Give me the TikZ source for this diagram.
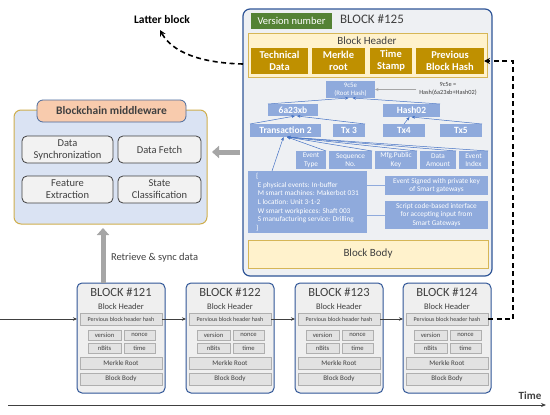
\documentclass[tikz,border=0pt]{standalone}
\usepackage{fontspec}
\setmainfont{Carlito}
\usetikzlibrary{arrows.meta,calc}
\definecolor{blueD}{HTML}{2F5597}
\definecolor{goldC}{HTML}{BF9000}
\definecolor{hdrY}{HTML}{FFF2CC}
\definecolor{hdrB}{HTML}{D6B656}
\definecolor{greenV}{HTML}{548235}
\definecolor{treeB}{HTML}{8FAADC}
\definecolor{lineB}{HTML}{4472C4}
\definecolor{mwFill}{HTML}{DAE3F3}
\definecolor{mwBord}{HTML}{CFAE4C}
\definecolor{mwTab}{HTML}{F8CBAD}
\definecolor{tabBord}{HTML}{4A6A9C}
\definecolor{bigFill}{HTML}{EEF0F3}
\definecolor{sFill}{HTML}{EFEFEF}
\definecolor{sIn}{HTML}{E2E2E2}
\definecolor{sInB}{HTML}{AFAFAF}
\definecolor{txtG}{HTML}{404040}
\definecolor{arrG}{HTML}{A6A6A6}
\definecolor{inBox}{HTML}{F2F2F2}
\newcommand\fsz[2]{\fontsize{#1}{#2}\selectfont}
\newcommand\bx[7]{\node[#6,minimum width={(#4)-(#2)},minimum height={(#5)-(#3)}] (#1) at ({((#2)+(#4))/2},{((#3)+(#5))/2}) {#7};}
\tikzset{
 every node/.style={inner sep=0pt,outer sep=0pt},
 gbox/.style={fill=goldC,text=white,font=\bfseries\fsz{10.5}{12},align=center},
 tbox/.style={fill=treeB,text=white,font=\bfseries\fsz{9.5}{11},align=center},
 ebox/.style={fill=treeB,text=white,font=\fsz{7.3}{8.5},align=center},
 tarr/.style={draw=lineB,line width=0.5pt,-{Stealth[length=3.5pt,width=3pt]}},
 tline/.style={draw=treeB,line width=0.6pt},
 sblk/.style={draw=blueD,line width=1pt,rounded corners=5pt,fill=sFill},
 sin/.style={fill=sIn,draw=sInB,line width=0.4pt,text=txtG},
 hdr/.style={fill=hdrY,draw=hdrB,line width=0.8pt},
 mwin/.style={fill=inBox,draw=txtG,line width=0.8pt,rounded corners=5pt,text=txtG,font=\fsz{10.5}{12},align=center},
 garr/.style={draw=arrG,line width=5pt,-{Triangle[width=12pt,length=7pt]}},
 darr/.style={draw=black,line width=1.6pt,dash pattern=on 5pt off 3.5pt,-{Stealth[length=6pt,width=6pt]}},
 carr/.style={draw=txtG,line width=0.6pt,-{Stealth[length=4pt,width=3.5pt]}},
}
\newcommand\smallblock[2]{%
 \bx{b#1}{#2}{283}{#2+88}{393}{sblk}{}
 \node[font=\fsz{12.5}{14},text=txtG] (t#1) at ({#2+44},292) {BLOCK \##1};
 \node[font=\fsz{8.5}{10},text=txtG] (bh#1) at ({#2+44},307) {Block Header};
 \bx{h#1}{#2+3}{313}{#2+85}{325}{sin,font=\fsz{6}{7}}{Pervious block header hash}
 \bx{v#1}{#2+11}{330}{#2+44}{340}{sin,font=\fsz{6.6}{7}}{version}
 \bx{n#1}{#2+47}{330}{#2+78}{340}{sin,font=\fsz{6.6}{7}}{nonce}
 \bx{nb#1}{#2+11}{343}{#2+44}{353}{sin,font=\fsz{6.6}{7}}{nBits}
 \bx{ti#1}{#2+47}{343}{#2+78}{353}{sin,font=\fsz{6.6}{7}}{time}
 \bx{m#1}{#2+3}{357}{#2+85}{369}{sin,font=\fsz{7}{8}}{Merkle Root}
 \bx{bb#1}{#2+3}{373}{#2+85}{385}{sin,font=\fsz{7}{8}}{Block Body}
}
\begin{document}
\begin{tikzpicture}[x=1pt,y=-1pt]
\useasboundingbox (0,0) rectangle (550,415);
% ---------- big block #125
\bx{big}{243}{9}{492}{276}{draw=blueD,line width=1.2pt,rounded corners=7pt,fill=bigFill}{}
\bx{ver}{251}{13}{332}{29}{fill=greenV,text=white,font=\fsz{10.5}{12}}{Version number}
\node[font=\fsz{13}{15},text=txtG] (b125) at (372,19) {BLOCK \#125};
\bx{hdr}{248}{33}{487}{77}{hdr}{}
\node[font=\fsz{11}{13},text=txtG] (hdrt) at (367,41) {Block Header};
\bx{tech}{251}{48}{308}{74}{gbox}{Technical\\Data}
\bx{merk}{312}{48}{365}{74}{gbox}{Merkle\\root}
\bx{tstamp}{370}{48}{412}{74}{gbox}{Time\\Stamp}
\bx{prev}{416}{48}{484}{74}{gbox}{Previous\\Block Hash}
% tree
\bx{root}{326}{81}{375}{98}{fill=treeB,text=white,font=\fsz{6.8}{8},align=center}{9c5e\\(Root Hash)}
\node[font=\fsz{6.3}{8},text=txtG,align=center] (rlab) at (448,89) {9c5e =\\Hash(6a23xb+Hash02)};
\bx{h6}{268}{104}{318}{116}{tbox}{6a23xb}
\bx{h02}{383}{104}{440}{117}{tbox}{Hash02}
\bx{tx2}{250}{124}{321}{137}{tbox}{Transaction 2}
\bx{tx3}{333}{124}{365}{137}{tbox}{Tx 3}
\bx{tx4}{383}{124}{425}{137}{tbox}{Tx4}
\bx{tx5}{440}{124}{482}{137}{tbox}{Tx5}
\bx{etype}{296}{151}{326}{169}{ebox}{Event\\Type}
\bx{eseq}{329}{151}{372}{169}{ebox}{Sequence\\No.}
\bx{emfg}{375}{151}{417}{169}{ebox}{Mfg.Public\\Key}
\bx{eamt}{420}{151}{456}{169}{ebox}{Data\\Amount}
\bx{eidx}{459}{151}{488}{169}{ebox}{Event\\Index}
\bx{bt}{248}{171}{367}{233}{fill=treeB,text=white,font=\fsz{7.3}{8.7},align=left}{%
\{\hspace*{88pt}\strut\\
\ E physical events: In-buffer\\
\ M smart machines: Makerbot 031\\
\ L location: Unit 3-1-2\\
\ W smart workpieces: Shaft 003\\
\ S manufacturing service: Drilling\\
\}}
\bx{sign}{385}{176}{488}{195}{ebox}{Event Signed with private key\\of Smart gateways}
\bx{scr}{385}{201}{488}{229}{ebox}{Script code-based interface\\for accepting input from\\Smart Gateways}
\bx{body}{248}{240}{488}{268}{hdr,font=\fsz{11}{13},text=txtG}{Block Body}
% tree connectors
\draw[draw=arrG,line width=0.5pt,-{Stealth[length=3.5pt,width=3pt]}] (rlab.west |- root.east) ++(-3,0) -- (root.east);
\draw[tarr] (h6.north west) -- ([xshift=-2pt]root.south);
\draw[tarr] (h02.north east) -- ([xshift=2pt]root.south);
\draw[tarr] (tx2.north west) -- ([xshift=2pt]h6.south);
\draw[tarr] (tx3.north east) -- ([xshift=4pt]h6.south);
\draw[tarr] (tx4.north) -- ([xshift=-2pt]h02.south);
\draw[tarr] (tx5.north east) -- (h02.south);
\foreach \e in {etype,eseq,emfg,eamt,eidx}{\draw[tarr] (\e.north east) -- ([xshift=1.5pt]tx2.south);}
\draw[tarr] ([xshift=24pt]bt.north west) -- ([xshift=-2pt]tx2.south);
\draw[tline] (bt.east |- sign.west) -- (sign.west);
\draw[tline] (bt.east |- scr.west) -- (scr.west);
% ---------- middleware
\bx{mw}{14}{110}{207}{224}{fill=mwFill,draw=mwBord,line width=1pt,rounded corners=7pt}{}
\bx{mwt}{37}{100}{186}{122}{fill=mwTab,draw=tabBord,line width=0.8pt,rounded corners=6pt,text=txtG,font=\bfseries\fsz{11.5}{13}}{Blockchain middleware}
\bx{dsync}{22}{136}{113}{163}{mwin}{Data\\Synchronization}
\bx{dfetch}{118}{136}{201}{163}{mwin}{Data Fetch}
\bx{fext}{22}{176}{113}{203}{mwin}{Feature\\Extraction}
\bx{scls}{118}{176}{201}{203}{mwin}{State\\Classification}
% ---------- small blocks
\smallblock{121}{77}
\smallblock{122}{186}
\smallblock{123}{295}
\smallblock{124}{403}
\coordinate (chainstart) at (0,319);
\draw[carr] (chainstart) -- (b121.west |- h121.east);
\draw[carr] (h121.east) -- (b122.west |- h121.east);
\draw[carr] (h122.east) -- (b123.west |- h122.east);
\draw[carr] (h123.east) -- (b124.west |- h123.east);
% ---------- gray arrows
\coordinate (ga1) at (243,152);
\draw[garr,shorten >=5pt,shorten <=3pt] (ga1) -- (mw.east |- ga1);
\coordinate (gv) at (103,283);
\draw[garr,shorten >=4pt] (gv) -- (mw.south -| gv);
\node[font=\fsz{10.5}{12},text=txtG,anchor=west] (rsync) at (111,258) {Retrieve \& sync data};
% ---------- dashed arrows
\node[font=\bfseries\fsz{11.5}{13}] (latter) at (162,20) {Latter block};
\coordinate (lbs) at (243,64);
\coordinate (ltip) at (160,30);
\draw[darr] (lbs) .. controls (200,63) and (172,52) .. (ltip);
\coordinate (rx) at (513,0);
\draw[darr] (h124.east) -| (rx |- prev.east) -- (prev.east);
% ---------- time axis
\coordinate (ax0) at (8,405);
\coordinate (ax1) at (546,405);
\draw[draw=txtG,line width=1pt,-{Stealth[length=5pt,width=4pt]}] (ax0) -- (ax1);
\node[font=\bfseries\fsz{11}{13},text=txtG] (time) at (530,396) {Time};
\end{tikzpicture}
\end{document}
